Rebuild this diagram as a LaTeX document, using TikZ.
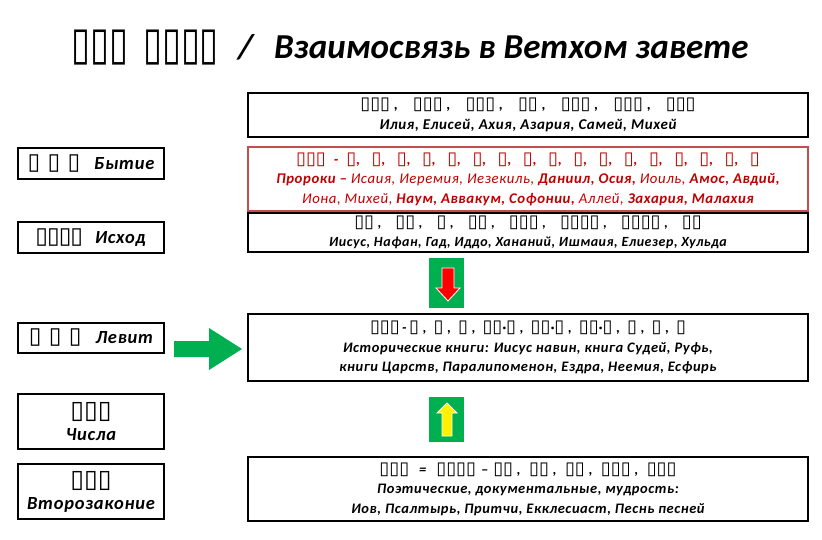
\documentclass[tikz,border=0pt]{standalone}
\usepackage{fontspec}
\setmainfont{Carlito}[LetterSpace=4]
\newfontfamily\ttlfont{Carlito}
\newfontfamily\dv{DejaVu Sans}
\newfontfamily\dvn{DejaVu Sans}[FakeStretch=0.75]
\definecolor{darkred}{HTML}{C00000}
\definecolor{redborder}{HTML}{C0504D}
\definecolor{arrowgreen}{HTML}{00B050}
\def\tofusize{18}
\newcommand\tf[1]{{\dv\mdseries\upshape\fontsize{\tofusize}{\tofusize}\selectfont #1}}
\newcommand\cs{,\hspace{11.5pt}}
\newcommand\ct{ ,\hspace{7pt}}
\newcommand\cf{ ,\hspace{8.5pt}}
\begin{document}
\begin{tikzpicture}[x=1pt,y=-1pt,
  lbox/.style={draw=black, line width=1.2pt, minimum width=146pt, inner sep=0pt, align=center,
    font=\bfseries\itshape\fontsize{18.5}{21}\selectfont\def\tofusize{23}},
  rbox/.style={draw=black, line width=1.2pt, minimum width=560pt, inner sep=0pt, align=center,
    font=\bfseries\itshape\fontsize{14.5}{19.5}\selectfont\def\tofusize{18}},
  ttl/.style={inner sep=0pt, font=\ttlfont\bfseries\itshape\fontsize{35}{40}\selectfont}]
\useasboundingbox (0,0) rectangle (822,540);
\fill[white] (0,0) rectangle (822,540);

% title
\node[inner sep=0pt, anchor=base west, font=\dvn\fontsize{46}{48}\selectfont] (titlecn) at (71,60) {▯▯▯\hspace{4pt} ▯▯▯▯};
\node[ttl, anchor=base west] (titlesep) at (238,59) {/};
\node[ttl, anchor=base west] (titleru) at (274,59) {Взаимосвязь в Ветхом завете};

% left boxes
\node[lbox, minimum height=31pt] (gen) at (91,163.5) {\tf{▯ ▯ ▯}\hspace{14pt}Бытие};
\node[lbox, minimum height=31pt] (exo) at (91,237.5) {\tf{\hspace{-1pt}▯\hspace{-1pt}▯\hspace{-1pt}▯\hspace{-1pt}▯}\hspace{12pt}Исход};
\node[lbox, minimum height=30pt] (lev) at (91,338) {\tf{▯ ▯ ▯}\hspace{14pt}Левит};
\node[lbox, minimum height=55pt, font=\bfseries\itshape\fontsize{18.5}{22}\selectfont\def\tofusize{25}] (num) at (91,421.5) {\tf{▯▯▯}\\Числа};
\node[lbox, minimum height=55pt, font=\bfseries\itshape\fontsize{18.5}{22}\selectfont\def\tofusize{25}] (deu) at (91,491.5) {\tf{▯▯▯}\\Второзаконие};

% right boxes
\node[rbox, minimum height=44pt, font=\bfseries\itshape\fontsize{15}{19.5}\selectfont\def\tofusize{18}] (b1) at (528,115)
  {\tf{▯▯▯} ,\quad \tf{▯▯▯} ,\quad \tf{▯▯▯} ,\quad \tf{▯▯} ,\quad \tf{▯▯▯} ,\quad \tf{▯▯▯} ,\quad \tf{▯▯▯}\\
   Илия, Елисей, Ахия, Азария, Самей, Михей};
\node[rbox, draw=redborder, text=darkred, minimum height=64pt, font=\bfseries\itshape\fontsize{14.8}{19.5}\selectfont\def\tofusize{18}] (b2) at (528,179)
  {\tf{▯▯▯}\hspace{8pt}-\hspace{8pt}\tf{▯}\cs\tf{▯}\cs\tf{▯}\cs\tf{▯}\cs\tf{▯}\cs\tf{▯}\cs\tf{▯}\cs\tf{▯}\cs\tf{▯}\cs\tf{▯}\cs\tf{▯}\cs\tf{▯}\cs\tf{▯}\cs\tf{▯}\cs\tf{▯}\cs\tf{▯}\cs\tf{▯}\\
   Пророки – {\mdseries Исаия, Иеремия, Иезекиль,} Даниил, Осия, {\mdseries Иоиль,} Амос, Авдий,\\
   {\mdseries Иона, Михей,} Наум, Аввакум, Софонии, {\mdseries Аллей,} Захария, Малахия};
\node[rbox, minimum height=39pt, font=\bfseries\itshape\fontsize{14}{19}\selectfont\def\tofusize{18}] (b3) at (528,232.5)
  {\tf{▯▯} ,\quad \tf{▯▯} ,\quad \tf{▯} ,\quad \tf{▯▯} ,\quad \tf{▯▯▯} ,\quad \tf{▯▯▯▯} ,\quad \tf{▯▯▯▯} ,\quad \tf{▯▯}\\
   Иисус, Нафан, Гад, Иддо, Хананий, Ишмаия, Елиезер, Хульда};
\node[rbox, minimum height=67pt] (b4) at (528,347.5)
  {\tf{▯▯▯}\,-\,\tf{▯}\ct\tf{▯}\ct\tf{▯}\ct\tf{▯▯}·\tf{▯}\ct\tf{▯▯}·\tf{▯}\ct\tf{▯▯}·\tf{▯}\ct\tf{▯}\ct\tf{▯}\ct\tf{▯}\\
   Исторические книги: Иисус навин, книга Судей, Руфь,\\
   книги Царств, Паралипоменон, Ездра, Неемия, Есфирь};
\node[rbox, minimum height=64pt] (b5) at (528,489)
  {\tf{▯▯▯}\hspace{10pt}=\hspace{10pt}\tf{▯▯▯▯}\hspace{5pt}–\hspace{5pt}\tf{▯▯}\cf\tf{▯▯}\cf\tf{▯▯}\cf\tf{▯▯▯}\cf\tf{▯▯▯}\\
   Поэтические, документальные, мудрость:\\
   Иов, Псалтырь, Притчи, Екклесиаст, Песнь песней};

% green right arrow
\fill[arrowgreen] (174,341) -- (209,341) -- (209,328) -- (242,349) -- (209,370) -- (209,357) -- (174,357) -- cycle;

% down arrow
\fill[arrowgreen] (429,258) rectangle (464,308);
\filldraw[fill=red, draw=white, line width=0.8pt] (442,268) -- (454,268) -- (454,288) -- (460,288) -- (448,301) -- (436,288) -- (442,288) -- cycle;

% up arrow
\fill[arrowgreen] (429,397) rectangle (464,442);
\filldraw[fill=yellow, draw=white, line width=0.8pt] (442,436) -- (452,436) -- (452,413) -- (457,413) -- (447,403) -- (437,413) -- (442,413) -- cycle;
\end{tikzpicture}
\end{document}
